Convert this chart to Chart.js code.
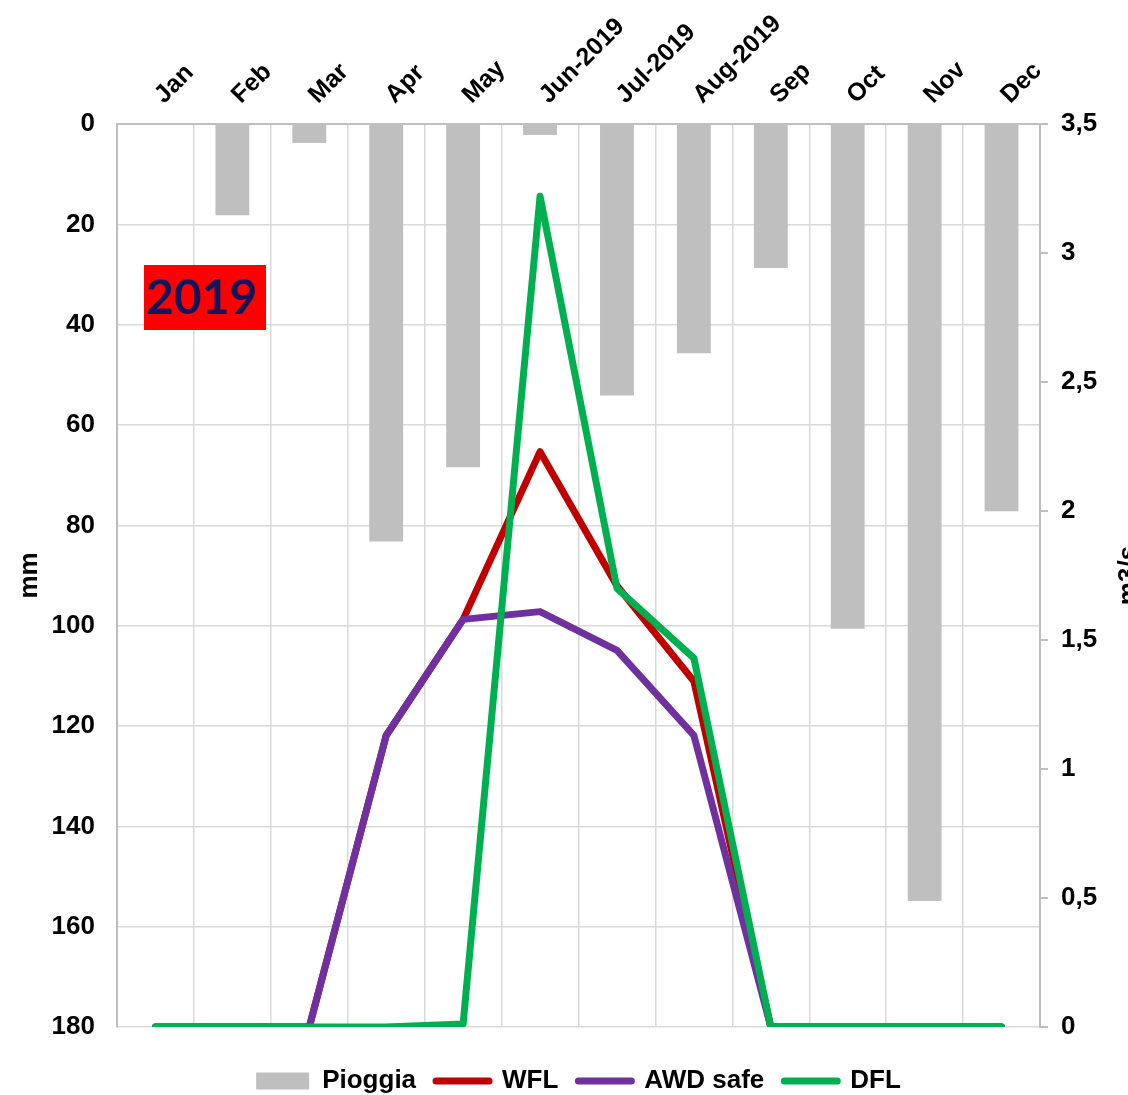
<!DOCTYPE html>
<html>
<head>
<meta charset="utf-8">
<script src="https://cdn.jsdelivr.net/npm/chart.js@4"></script>
<style>
  body { margin: 0; background: #fff; }
  #wrap { width: 1128px; height: 1095px; }
</style>
</head>
<body>
<div id="wrap"><canvas id="myChart" width="1128" height="1095"></canvas></div>
<script>
var months = ['Jan', 'Feb', 'Mar', 'Apr', 'May', 'Jun-2019', 'Jul-2019', 'Aug-2019', 'Sep', 'Oct', 'Nov', 'Dec'];
// rainfall, mm
var pioggia = [0, 18.2, 3.8, 83.2, 68.4, 2.2, 54.1, 45.7, 28.7, 100.6, 154.9, 77.2];
// flows, m3/s
var wfl = [0, 0, 0, 1.13, 1.58, 2.23, 1.71, 1.34, 0, 0, 0, 0];
var awdSafe = [0, 0, 0, 1.13, 1.58, 1.61, 1.46, 1.13, 0, 0, 0, 0];
var dfl = [0, 0, 0, 0, 0.012, 3.22, 1.70, 1.43, 0, 0, 0, 0];
var mmTicks = [0, 20, 40, 60, 80, 100, 120, 140, 160, 180];
var flowTicks = [0, 0.5, 1, 1.5, 2, 2.5, 3, 3.5];

var font = 'Liberation Sans, Arial, sans-serif';
var gray = '#bfbfbf';
var gridGray = '#d9d9d9';
var lineW = 7;

// year badge and the two axis titles drawn straight on the canvas
var extras = {
    id: 'extras',
    afterDraw: function(chart) {
        var c = chart.ctx;
        var a = chart.chartArea;
        var mid = (a.top + a.bottom) / 2;
        c.save();
        c.fillStyle = '#ff0000';
        c.fillRect(a.left + 27, a.top + 141, 122, 65);
        c.fillStyle = '#14145a';
        c.font = 'bold 48px Lato, sans-serif';
        c.textAlign = 'left';
        c.textBaseline = 'middle';
        c.fillText('2019', a.left + 29, a.top + 175);

        c.fillStyle = '#000';
        c.font = 'bold 26px ' + font;
        c.textAlign = 'center';
        c.textBaseline = 'alphabetic';
        c.translate(37, mid);
        c.rotate(-Math.PI / 2);
        c.fillText('mm', 0, 0);
        c.restore();

        c.save();
        c.fillStyle = '#000';
        c.font = 'bold 26px ' + font;
        c.textAlign = 'center';
        c.translate(1129, mid);
        c.rotate(-Math.PI / 2);
        c.fillText('m3/s', 0, 0);
        c.restore();
    }
};

function lineSet(label, data, color, order) {
    return {
        type: 'line',
        label: label,
        data: data,
        borderColor: color,
        backgroundColor: color,
        borderWidth: lineW,
        borderJoinStyle: 'round',
        borderCapStyle: 'round',
        pointRadius: 0,
        tension: 0,
        yAxisID: 'flow',
        order: order
    };
}

var ctx = document.getElementById('myChart').getContext('2d');
var myChart = new Chart(ctx, {
    type: 'bar',
    data: {
        labels: months,
        datasets: [{
            type: 'bar',
            label: 'Pioggia',
            data: pioggia,
            backgroundColor: gray,
            yAxisID: 'mm',
            barPercentage: 0.5,
            categoryPercentage: 0.88,
            order: 4
        },
        lineSet('WFL', wfl, '#c00000', 3),
        lineSet('AWD safe', awdSafe, '#7030a0', 2),
        lineSet('DFL', dfl, '#00b050', 1)]
    },
    options: {
        responsive: false,
        animation: false,
        devicePixelRatio: 1,
        layout: { padding: { top: 0, right: 0, bottom: -9, left: 0 } },
        scales: {
            x: {
                position: 'top',
                offset: true,
                grid: { offset: true, color: gridGray, lineWidth: 1.5, drawTicks: false },
                border: { color: gray, width: 2 },
                ticks: {
                    autoSkip: false,
                    minRotation: 45,
                    maxRotation: 45,
                    padding: 14,
                    labelOffset: 25,
                    color: '#000',
                    font: { family: font, size: 25, weight: 'bold' }
                },
                afterFit: function(scale) { scale.height = 124; }
            },
            mm: {
                type: 'linear',
                position: 'left',
                reverse: true,
                min: 0,
                max: 180,
                afterBuildTicks: function(scale) {
                    scale.ticks = mmTicks.map(function(v) { return { value: v }; });
                },
                grid: { color: gridGray, lineWidth: 1.5, drawTicks: false },
                border: { color: gray, width: 2 },
                ticks: {
                    padding: 22,
                    color: '#000',
                    font: { family: font, size: 26, weight: 'bold' }
                },
                afterFit: function(scale) { scale.width = 117; }
            },
            flow: {
                type: 'linear',
                position: 'right',
                min: 0,
                max: 3.5,
                afterBuildTicks: function(scale) {
                    scale.ticks = flowTicks.map(function(v) { return { value: v }; });
                },
                grid: { drawOnChartArea: false, drawTicks: true, tickLength: 8, color: gray, lineWidth: 2 },
                border: { color: gray, width: 2 },
                ticks: {
                    padding: 13,
                    color: '#000',
                    font: { family: font, size: 26, weight: 'bold' },
                    callback: function(v) { return String(v).replace('.', ','); }
                },
                afterFit: function(scale) { scale.width = 88; }
            }
        },
        plugins: {
            tooltip: { enabled: false },
            legend: {
                position: 'bottom',
                fullSize: false,
                title: { display: true, text: '', font: { size: 10 }, padding: { top: 9, bottom: 0 } },
                labels: {
                    usePointStyle: true,
                    pointStyleWidth: 53,
                    boxHeight: 17,
                    padding: 20,
                    color: '#000',
                    font: { family: font, size: 26, weight: 'bold' },
                    generateLabels: function(chart) {
                        return chart.data.datasets.map(function(ds, i) {
                            var isBar = ds.type === 'bar';
                            return {
                                text: ds.label,
                                fillStyle: isBar ? ds.backgroundColor : ds.borderColor,
                                strokeStyle: isBar ? ds.backgroundColor : ds.borderColor,
                                lineWidth: isBar ? 0 : lineW,
                                lineCap: 'round',
                                pointStyle: isBar ? 'rect' : 'line',
                                hidden: false,
                                datasetIndex: i,
                                fontColor: '#000'
                            };
                        });
                    }
                }
            }
        }
    },
    plugins: [extras]
});
</script>
</body>
</html>
